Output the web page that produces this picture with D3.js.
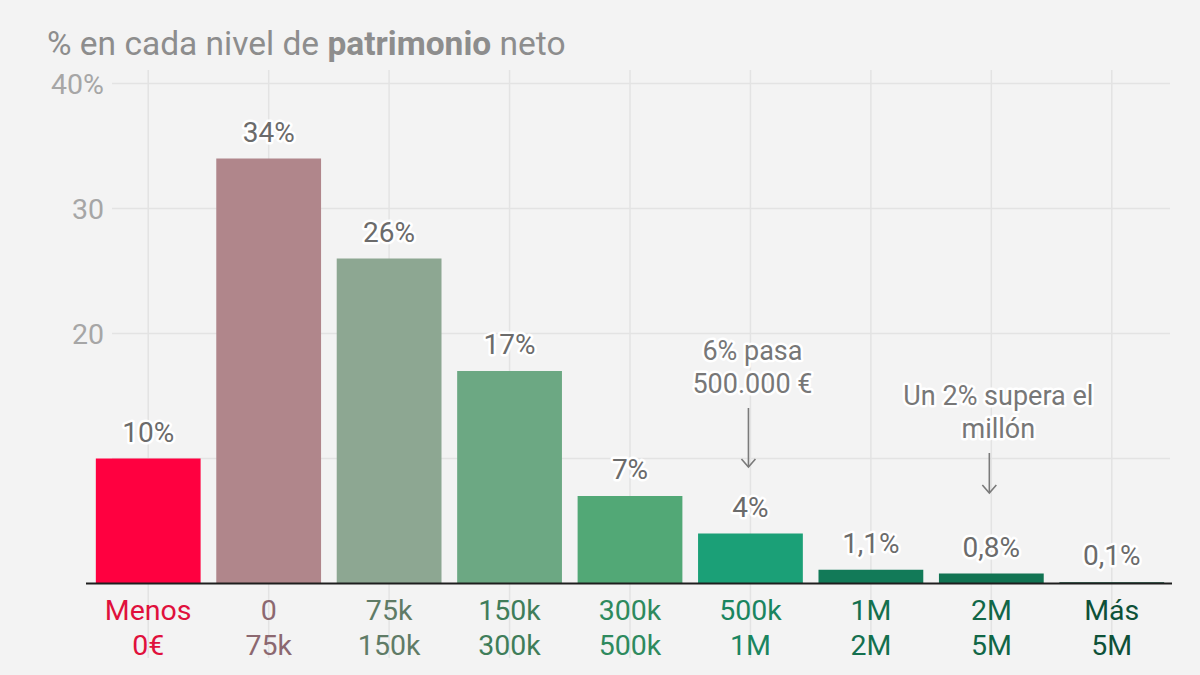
<!DOCTYPE html>
<html>
<head>
<meta charset="utf-8">
<script src="https://cdn.jsdelivr.net/npm/d3@7"></script>
<style>
  body { margin: 0; background: #f3f3f3; }
  svg text { font-family: Roboto, "Liberation Sans", sans-serif; }
  .halo { paint-order: stroke; stroke: #fff; stroke-width: 5px; stroke-linejoin: round; }
</style>
</head>
<body>
<div id="chart"></div>
<script>
// data ***********
var rangeTop = ['Menos', '0', '75k', '150k', '300k', '500k', '1M', '2M', 'Más'];
var rangeBottom = ['0€', '75k', '150k', '300k', '500k', '1M', '2M', '5M', '5M'];
var shares = [10, 34, 26, 17, 7, 4, 1.1, 0.8, 0.1];
var shareLabels = ['10%', '34%', '26%', '17%', '7%', '4%', '1,1%', '0,8%', '0,1%'];
var gridTicks = [10, 20, 30, 40];
var tickLabels = ['', '20', '30', '40%'];

// colours per bar and per category label
var barColors = ['#ff0040', '#b0868b', '#8da792', '#6ca883', '#52a876', '#1ba077', '#127a58', '#117352', '#0d4f36'];
var labelColors = ['#e0103c', '#8c6870', '#5f7b66', '#3f7d5a', '#2e8a5e', '#1a8560', '#14704f', '#116747', '#0e5138'];

// annotations: which bar, text lines
var notes = [
  { idx: 5, lines: ['6% pasa', '500.000 €'], y: 360, dx: 2, arrowTop: 408, arrowBottom: 467 },
  { idx: 7, lines: ['Un 2% supera el', 'millón'], y: 405, dx: 7, arrowTop: 453, arrowBottom: 493 }
];

var svgWidth = 1200;
var svgHeight = 675;

var svg = d3.select('#chart')
  .append('svg')
  .attr('width', svgWidth)
  .attr('height', svgHeight);

svg.append('rect')
  .attr('width', svgWidth)
  .attr('height', svgHeight)
  .attr('fill', '#f3f3f3');

// scales ***********
var x = d3.scaleBand()
  .domain(d3.range(shares.length))
  .range([88, 1172])
  .paddingInner(0.13)
  .paddingOuter(0.065);

var y = d3.scaleLinear()
  .domain([0, 40])
  .range([583.5, 83.5]);

// title ***********
var title = svg.append('text')
  .attr('x', 47)
  .attr('y', 55)
  .attr('fill', '#8d8d8d')
  .style('font-size', '33.5px');
title.append('tspan').text('% en cada nivel de ');
title.append('tspan').style('font-weight', 'bold').text('patrimonio');
title.append('tspan').text(' neto');

// grid ***********
svg.append('g')
  .selectAll('line')
  .data(gridTicks)
  .enter()
  .append('line')
  .attr('x1', 112)
  .attr('x2', 1170)
  .attr('y1', d => y(d))
  .attr('y2', d => y(d))
  .attr('stroke', '#e3e3e3')
  .attr('stroke-width', 1.5);

svg.append('g')
  .selectAll('line')
  .data(d3.range(shares.length))
  .enter()
  .append('line')
  .attr('x1', d => x(d) + x.bandwidth() / 2)
  .attr('x2', d => x(d) + x.bandwidth() / 2)
  .attr('y1', 70)
  .attr('y2', 658)
  .attr('stroke', '#e3e3e3')
  .attr('stroke-width', 1.5);

// y tick labels ***********
svg.append('g')
  .selectAll('text')
  .data(gridTicks)
  .enter()
  .append('text')
  .attr('x', 104)
  .attr('y', d => y(d))
  .attr('dy', '0.36em')
  .attr('text-anchor', 'end')
  .attr('fill', '#a6a6a6')
  .style('font-size', '28.5px')
  .text((d, i) => tickLabels[i]);

// bars ***********
svg.append('g')
  .selectAll('rect')
  .data(shares)
  .enter()
  .append('rect')
  .attr('x', (d, i) => x(i))
  .attr('y', d => y(d))
  .attr('width', x.bandwidth())
  .attr('height', d => y(0) - y(d))
  .attr('fill', (d, i) => barColors[i]);

// baseline ***********
svg.append('line')
  .attr('x1', 86)
  .attr('x2', 1172)
  .attr('y1', y(0))
  .attr('y2', y(0))
  .attr('stroke', '#1e1e1e')
  .attr('stroke-width', 2);

// value labels ***********
svg.append('g')
  .selectAll('text')
  .data(shares)
  .enter()
  .append('text')
  .attr('class', 'halo')
  .attr('x', (d, i) => x(i) + x.bandwidth() / 2)
  .attr('y', d => y(d) - 17)
  .attr('text-anchor', 'middle')
  .attr('fill', '#6b6b6b')
  .style('font-size', '28px')
  .text((d, i) => shareLabels[i]);

// category labels ***********
var cats = svg.append('g')
  .selectAll('text')
  .data(rangeTop)
  .enter()
  .append('text')
  .attr('text-anchor', 'middle')
  .attr('fill', (d, i) => labelColors[i])
  .style('font-size', '28.5px');
cats.append('tspan')
  .attr('x', (d, i) => x(i) + x.bandwidth() / 2)
  .attr('y', 620)
  .text(d => d);
cats.append('tspan')
  .attr('x', (d, i) => x(i) + x.bandwidth() / 2)
  .attr('y', 655)
  .text((d, i) => rangeBottom[i]);

// annotations ***********
notes.forEach(function(n) {
  var cx = x(n.idx) + x.bandwidth() / 2;
  var t = svg.append('text')
    .attr('class', 'halo')
    .attr('text-anchor', 'middle')
    .attr('fill', '#777')
    .style('font-size', '27px');
  n.lines.forEach(function(line, k) {
    t.append('tspan')
      .attr('x', cx + n.dx)
      .attr('y', n.y + k * 33)
      .text(line);
  });
  var ax = cx - 2;
  svg.append('line')
    .attr('x1', ax).attr('x2', ax)
    .attr('y1', n.arrowTop).attr('y2', n.arrowBottom)
    .attr('stroke', '#7a7a7a')
    .attr('stroke-width', 1.6);
  svg.append('path')
    .attr('d', `M${ax - 7},${n.arrowBottom - 8}L${ax},${n.arrowBottom}L${ax + 7},${n.arrowBottom - 8}`)
    .attr('fill', 'none')
    .attr('stroke', '#7a7a7a')
    .attr('stroke-width', 1.6);
});
</script>
</body>
</html>
